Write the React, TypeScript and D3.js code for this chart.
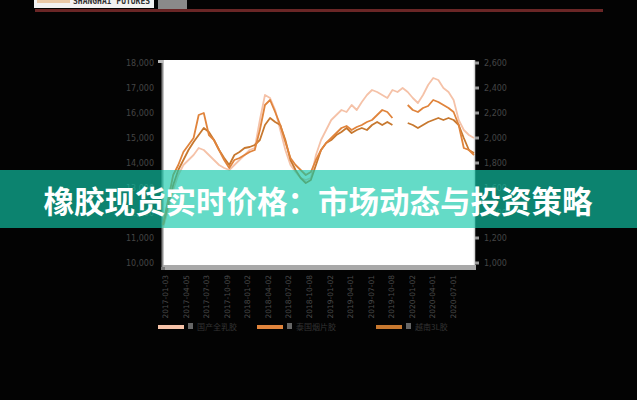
import React from "react";
import * as d3 from "d3";

const W = 637;
const H = 400;

// Tick labels
const leftTicks = [10000, 11000, 12000, 13000, 14000, 15000, 16000, 17000, 18000];
const rightTicks = [1000, 1200, 1400, 1600, 1800, 2000, 2200, 2400, 2600];
const xLabels = [
  "2017-01-03", "2017-04-05", "2017-07-03", "2017-10-09", "2018-01-02",
  "2018-04-02", "2018-07-02", "2018-10-08", "2019-01-02", "2019-04-01",
  "2019-07-01", "2019-10-08", "2020-01-02", "2020-04-01", "2020-07-01",
];
const seriesNames = ["国产全乳胶", "泰国烟片胶", "越南3L胶"];

// Series values (yuan / ton)
const seriesLight: (number | null)[] = [
  11400, 12120, 12920, 13520, 13920, 14120, 14320, 14600, 14520, 14320,
  14120, 13920, 13800, 13720, 13920, 14120, 14320, 14520, 14600, 15720,
  16720, 16600, 16120, 15320, 14520, 13920, 13640, 13400, 13320, 13400,
  14320, 14920, 15320, 15720, 15920, 16120, 16040, 16320, 16120, 16440,
  16720, 16920, 16840, 16720, 16600, 16920, 16840, 17000, 16840, 16600,
  16400, 16720, 17120, 17400, 17320, 17000, 16840, 16520, 15720, 15320,
  15120, 15000,
];
const seriesMid: (number | null)[] = [
  11520, 12520, 13520, 13920, 14440, 14720, 15000, 15920, 16000, 15120,
  14920, 14520, 14120, 13800, 14120, 14200, 14320, 14440, 14520, 15320,
  16320, 16520, 16040, 15520, 14840, 14200, 13920, 13720, 13520, 13640,
  14120, 14520, 14800, 15000, 15200, 15400, 15480, 15320, 15440, 15520,
  15640, 15720, 15920, 16120, 16040, 15800, null, null, 16320, 16120,
  16040, 16200, 16280, 16520, 16440, 16320, 16200, 16040, 15520, 14600,
  14520, 14320,
];
const seriesDark: (number | null)[] = [
  11520, 12320, 13120, 13720, 14120, 14520, 14840, 15120, 15400, 15240,
  14920, 14520, 14200, 13920, 14320, 14440, 14600, 14640, 14720, 14920,
  15520, 15800, 15640, 15520, 14920, 14120, 13720, 13400, 13200, 13320,
  13920, 14520, 14800, 14920, 15120, 15240, 15400, 15200, 15320, 15400,
  15320, 15520, 15640, 15520, 15640, 15520, null, null, 15600, 15520,
  15400, 15520, 15640, 15720, 15800, 15720, 15800, 15720, 15520, 15000,
  14520, 14400,
];

const colors = ["#f5c2a8", "#e0843c", "#c7782f"];

export default function App() {
  const plot = { x0: 163, x1: 474, y0: 60, y1: 268 };
  const x = d3.scaleLinear().domain([0, seriesMid.length - 1]).range([plot.x0, plot.x1]);
  const y = d3.scaleLinear().domain([10000, 18000]).range([263, 63]);
  const yR = d3.scaleLinear().domain([1000, 2600]).range([263, 63]);
  const xl = d3.scalePoint<string>().domain(xLabels).range([165, 453]);

  const line = d3
    .line<number | null>()
    .defined((d) => d !== null)
    .x((_, i) => x(i))
    .y((d) => y(d as number));

  const series = [seriesLight, seriesDark, seriesMid];
  const seriesColors = [colors[0], colors[2], colors[1]];

  const legendX = [158, 257, 376];

  return (
    <svg
      width={W}
      height={H}
      style={{ position: "absolute", left: 0, top: 0, display: "block" }}
      fontFamily="'Noto Sans CJK SC', 'Noto Sans', sans-serif"
    >
      <rect x={0} y={0} width={W} height={H} fill="#030303" />

      {/* header strip */}
      <rect x={34} y={0} width={120} height={8} fill="#f2f2f2" />
      <rect x={37} y={0} width={33} height={3} fill="#e9c9a8" />
      <text x={73} y={4} fontSize={8} fontWeight={700} fill="#333" fontFamily="'DejaVu Sans Mono', monospace">
        SHANGHAI FUTURES
      </text>
      <rect x={158} y={0} width={29} height={9} fill="#8a8a8a" />
      <rect x={35} y={9} width={568} height={3} fill="#6a2626" />

      {/* plot background */}
      <rect x={plot.x0} y={plot.y0} width={plot.x1 - plot.x0} height={plot.y1 - plot.y0} fill="#ffffff" />
      <line x1={plot.x0 - 0.5} x2={plot.x0 - 0.5} y1={plot.y0} y2={plot.y1} stroke="#8a8a8a" strokeWidth={2} />
      <line x1={plot.x1 + 0.5} x2={plot.x1 + 0.5} y1={plot.y0} y2={plot.y1} stroke="#d8d8d8" strokeWidth={1.5} />
      <rect x={158} y={60} width={5} height={3} fill="#bbbbbb" />
      <rect x={plot.x0} y={265} width={plot.x1 - plot.x0 + 2} height={5} fill="#a8a8a8" />
      <rect x={plot.x0 - 2} y={267} width={4} height={3} fill="#777" />

      {/* lines */}
      {series.map((s, k) => (
        <path
          key={k}
          d={line(s) || ""}
          fill="none"
          stroke={seriesColors[k]}
          strokeWidth={1.8}
          strokeLinejoin="round"
        />
      ))}

      {/* left axis labels */}
      {leftTicks.map((t) => (
        <text key={"l" + t} x={154} y={y(t) + 3} fontSize={8} fill="#454545" textAnchor="end" fontFamily="'DejaVu Sans', sans-serif">
          {d3.format(",")(t)}
        </text>
      ))}
      {/* right axis ticks + labels */}
      {rightTicks.map((t) => (
        <g key={"r" + t}>
          <rect x={475} y={yR(t) - 1.5} width={4} height={3} fill="#9a9a9a" />
          <text x={484} y={yR(t) + 3} fontSize={8} fill="#454545" fontFamily="'DejaVu Sans', sans-serif">
            {d3.format(",")(t)}
          </text>
        </g>
      ))}

      {/* x axis labels (vertical) */}
      {xLabels.map((lab) => (
        <text
          key={lab}
          transform={`translate(${(xl(lab) as number) + 3},275) rotate(-90)`}
          fontSize={7.5}
          fill="#4a4a4a"
          textAnchor="end"
          fontFamily="'DejaVu Sans', sans-serif"
        >
          {lab}
        </text>
      ))}

      {/* legend */}
      {seriesNames.map((n, k) => (
        <g key={n}>
          <rect x={legendX[k]} y={325} width={26} height={4} fill={colors[k]} />
          <rect x={legendX[k] + 30} y={323} width={5} height={6} fill="#666" />
          <text x={legendX[k] + 39} y={330} fontSize={8} fill="#333">
            {n}
          </text>
        </g>
      ))}

      {/* banner */}
      <rect x={0} y={170} width={W} height={58} fill="rgb(17,200,169)" fillOpacity={0.65} />
      <text
        x={318}
        y={213}
        fontSize={30.5}
        fontWeight={700}
        fill="#ffffff"
        textAnchor="middle"
        fontFamily="'Noto Sans CJK SC', sans-serif"
      >
        橡胶现货实时价格：市场动态与投资策略
      </text>
    </svg>
  );
}
